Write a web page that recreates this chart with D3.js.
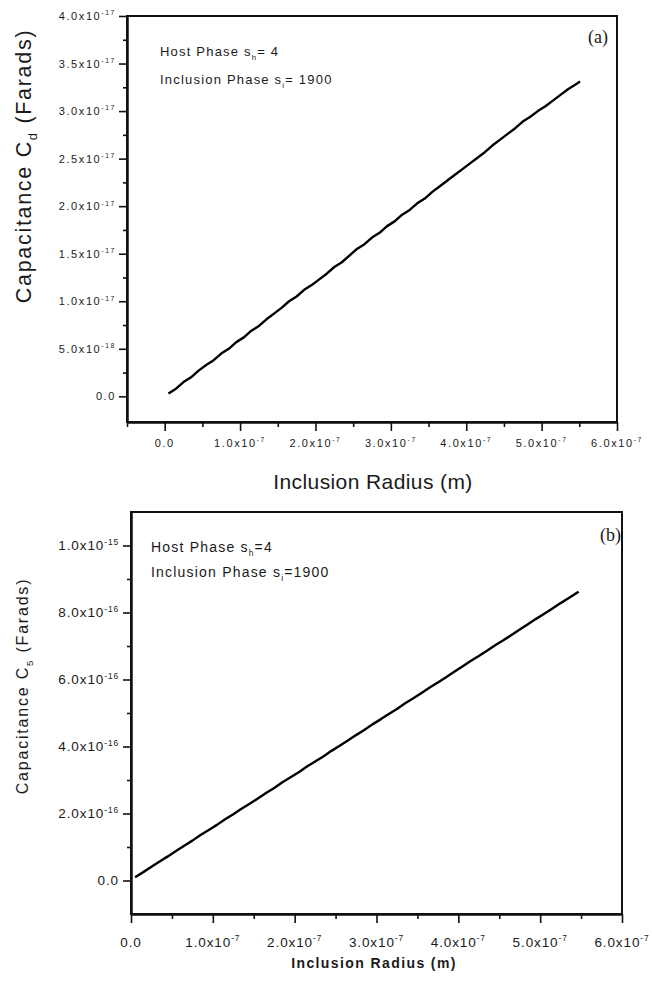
<!DOCTYPE html>
<html><head><meta charset="utf-8">
<script src="https://cdn.jsdelivr.net/npm/d3@7/dist/d3.min.js"></script>
<style>
body{margin:0;background:#fff}
text{font-family:"Liberation Sans",Arial,sans-serif;fill:#1a1a1a}
</style>
</head><body>
<svg id="c" width="652" height="985"></svg>
<script>
// ---------- DATA ----------
// radius in units of 1e-7 m
const radiusA = [0.05,0.15,0.25,0.35,0.45,0.55,0.65,0.75,0.85,0.95,1.05,1.15,1.25,1.35,1.45,1.55,1.65,1.75,1.85,1.95,2.05,2.15,2.25,2.35,2.45,2.55,2.65,2.75,2.85,2.95,3.05,3.15,3.25,3.35,3.45,3.55,3.65,3.75,3.85,3.95,4.05,4.15,4.25,4.35,4.45,4.55,4.65,4.75,4.85,4.95,5.05,5.15,5.25,5.35,5.45,5.51];
// capacitance C_d in units of 1e-17 F
const capA = [0.03,0.08,0.15,0.20,0.27,0.33,0.38,0.45,0.50,0.57,0.62,0.69,0.74,0.81,0.87,0.93,1.00,1.05,1.12,1.17,1.23,1.29,1.36,1.41,1.48,1.55,1.60,1.67,1.72,1.79,1.84,1.91,1.96,2.03,2.08,2.15,2.21,2.27,2.33,2.39,2.45,2.51,2.57,2.64,2.70,2.76,2.82,2.89,2.94,3.00,3.05,3.11,3.17,3.23,3.28,3.31];
const radiusB = [0.05,0.15,0.25,0.35,0.45,0.55,0.65,0.75,0.85,0.95,1.05,1.15,1.25,1.35,1.45,1.55,1.65,1.75,1.85,1.95,2.05,2.15,2.25,2.35,2.45,2.55,2.65,2.75,2.85,2.95,3.05,3.15,3.25,3.35,3.45,3.55,3.65,3.75,3.85,3.95,4.05,4.15,4.25,4.35,4.45,4.55,4.65,4.75,4.85,4.95,5.05,5.15,5.25,5.35,5.45,5.47];
// capacitance C_5 in units of 1e-16 F
const capB = [0.10,0.25,0.41,0.57,0.72,0.88,1.04,1.19,1.36,1.51,1.66,1.83,1.98,2.14,2.29,2.45,2.61,2.76,2.93,3.08,3.23,3.40,3.55,3.70,3.87,4.02,4.18,4.34,4.49,4.66,4.81,4.97,5.12,5.29,5.44,5.60,5.76,5.91,6.07,6.23,6.39,6.55,6.70,6.86,7.02,7.17,7.33,7.49,7.65,7.81,7.96,8.12,8.28,8.43,8.59,8.62];

const xTicks = [0,1,2,3,4,5,6];
const xTickLabels = [["0.0",""],["1.0","-7"],["2.0","-7"],["3.0","-7"],["4.0","-7"],["5.0","-7"],["6.0","-7"]];
const yTicksA = [0,0.5,1,1.5,2,2.5,3,3.5,4];
const yTickLabelsA = [["0.0",""],["5.0","-18"],["1.0","-17"],["1.5","-17"],["2.0","-17"],["2.5","-17"],["3.0","-17"],["3.5","-17"],["4.0","-17"]];
const yTicksB = [0,2,4,6,8,10];
const yTickLabelsB = [["0.0",""],["2.0","-16"],["4.0","-16"],["6.0","-16"],["8.0","-16"],["1.0","-15"]];

// ---------- DRAW ----------
const svg = d3.select("#c");

function panel(cfg){
  const x = d3.scaleLinear().domain(cfg.xDom).range(cfg.xR);
  const y = d3.scaleLinear().domain(cfg.yDom).range(cfg.yR);
  const g = svg.append("g");
  g.append("rect").attr("x",cfg.xR[0]).attr("y",cfg.yR[1])
    .attr("width",cfg.xR[1]-cfg.xR[0]).attr("height",cfg.yR[0]-cfg.yR[1])
    .attr("fill","none").attr("stroke","#111").attr("stroke-width",2);
  const styleAxis = s => { s.selectAll("path").attr("stroke","#111").attr("stroke-width",2);
                           s.selectAll("line").attr("stroke","#111").attr("stroke-width",1.6); };
  g.append("g").attr("transform",`translate(0,${cfg.yR[0]})`)
    .call(d3.axisBottom(x).tickValues(xTicks).tickSize(9).tickSizeOuter(0).tickFormat(""))
    .call(styleAxis);
  g.append("g").attr("transform",`translate(0,${cfg.yR[0]})`)
    .call(d3.axisBottom(x).tickValues(cfg.xMinor).tickSize(5).tickSizeOuter(0).tickFormat(""))
    .call(styleAxis);
  g.append("g").attr("transform",`translate(${cfg.xR[0]},0)`)
    .call(d3.axisLeft(y).tickValues(cfg.yTicks).tickSize(8).tickSizeOuter(0).tickFormat(""))
    .call(styleAxis);
  g.append("g").attr("transform",`translate(${cfg.xR[0]},0)`)
    .call(d3.axisLeft(y).tickValues(cfg.yMinor).tickSize(4).tickSizeOuter(0).tickFormat(""))
    .call(styleAxis);

  const addLab = (sel, lab, fs, ls) => {
    sel.attr("font-size",fs).attr("letter-spacing",ls);
    sel.append("tspan").text(lab[0] + (lab[1] ? "x10" : ""));
    if(lab[1]) sel.append("tspan").attr("font-size",fs*0.62).attr("dy",-fs*0.42).text(lab[1]);
  };
  xTicks.forEach((v,i)=>{
    const t = g.append("text").attr("x",x(v)+cfg.xLabShift).attr("y",cfg.xLabY).attr("text-anchor","middle");
    addLab(t, xTickLabels[i], cfg.tfs, cfg.tls);
  });
  cfg.yTicks.forEach((v,i)=>{
    const t = g.append("text").attr("x",cfg.yLabX).attr("y",y(v)+cfg.tfs*0.36).attr("text-anchor","end");
    addLab(t, cfg.yTickLabels[i], cfg.tfs, cfg.tls);
  });

  const pts = cfg.xs.map((v,i)=>[v,cfg.ys[i]]);
  g.append("path").datum(pts)
    .attr("d", d3.line().x(d=>x(d[0])).y(d=>y(d[1])))
    .attr("fill","none").attr("stroke","#000").attr("stroke-width",2.4)
    .attr("stroke-linejoin","round");

  const a1 = g.append("text").attr("x",cfg.annX).attr("y",cfg.annY1).attr("font-size",cfg.afs).attr("letter-spacing",cfg.als);
  a1.append("tspan").text("Host Phase s");
  a1.append("tspan").attr("font-size",cfg.afs*0.6).attr("dy",cfg.afs*0.3).text("h");
  a1.append("tspan").attr("dy",-cfg.afs*0.3).text(cfg.hostEq);
  const a2 = g.append("text").attr("x",cfg.annX).attr("y",cfg.annY2).attr("font-size",cfg.afs).attr("letter-spacing",cfg.als);
  a2.append("tspan").text("Inclusion Phase s");
  a2.append("tspan").attr("font-size",cfg.afs*0.6).attr("dy",cfg.afs*0.3).text("i");
  a2.append("tspan").attr("dy",-cfg.afs*0.3).text(cfg.incEq);

  g.append("text").attr("x",cfg.tagX).attr("y",cfg.tagY).attr("font-size",18)
    .attr("text-anchor","end").style("font-family","'Liberation Serif','Times New Roman',serif").text(cfg.tag);

  g.append("text").attr("x",cfg.xTitleX).attr("y",cfg.xTitleY).attr("text-anchor","middle")
    .attr("font-size",cfg.xTitleFs).attr("font-weight",cfg.xTitleW).attr("letter-spacing",cfg.xTitleLs)
    .text("Inclusion Radius (m)");
  const yt = g.append("text").attr("transform",`translate(${cfg.yTitleX},${cfg.yTitleY}) rotate(-90)`)
    .attr("text-anchor","middle").attr("font-size",cfg.yTitleFs).attr("letter-spacing",cfg.yTitleLs);
  yt.append("tspan").text("Capacitance C");
  yt.append("tspan").attr("font-size",cfg.yTitleFs*0.6).attr("dy",cfg.yTitleFs*0.3).text(cfg.sub);
  yt.append("tspan").attr("dy",-cfg.yTitleFs*0.3).text(" (Farads)");
}

panel({
  xDom:[-0.5,6], xR:[127,617], yDom:[-0.27,4.0], yR:[422,16],
  xMinor:[-0.5,0.5,1.5,2.5,3.5,4.5,5.5], yTicks:yTicksA, yTickLabels:yTickLabelsA,
  yMinor:[0.25,0.75,1.25,1.75,2.25,2.75,3.25,3.75],
  tfs:11, tls:1.6, xLabY:447, xLabShift:0, yLabX:116,
  xs:radiusA, ys:capA,
  annX:160, annY1:56, annY2:84, afs:13, als:1.2, hostEq:"= 4", incEq:"= 1900",
  tag:"(a)", tagX:608, tagY:43,
  xTitleX:373, xTitleY:489, xTitleFs:21, xTitleW:"normal", xTitleLs:0.4,
  yTitleX:31, yTitleY:166, yTitleFs:21.5, yTitleLs:1.7, sub:"d"
});
panel({
  xDom:[0,6], xR:[131,622], yDom:[-1,11], yR:[914,512],
  xMinor:[0.5,1.5,2.5,3.5,4.5,5.5], yTicks:yTicksB, yTickLabels:yTickLabelsB,
  yMinor:[1,3,5,7,9],
  tfs:13.5, tls:0.9, xLabY:947, xLabShift:0, yLabX:119,
  xs:radiusB, ys:capB,
  annX:151, annY1:552, annY2:577, afs:14, als:1.2, hostEq:"=4", incEq:"=1900",
  tag:"(b)", tagX:621, tagY:541,
  xTitleX:374, xTitleY:968, xTitleFs:14, xTitleW:"bold", xTitleLs:1.4,
  yTitleX:28, yTitleY:686, yTitleFs:16, yTitleLs:1.8, sub:"5"
});
</script>
</body></html>
